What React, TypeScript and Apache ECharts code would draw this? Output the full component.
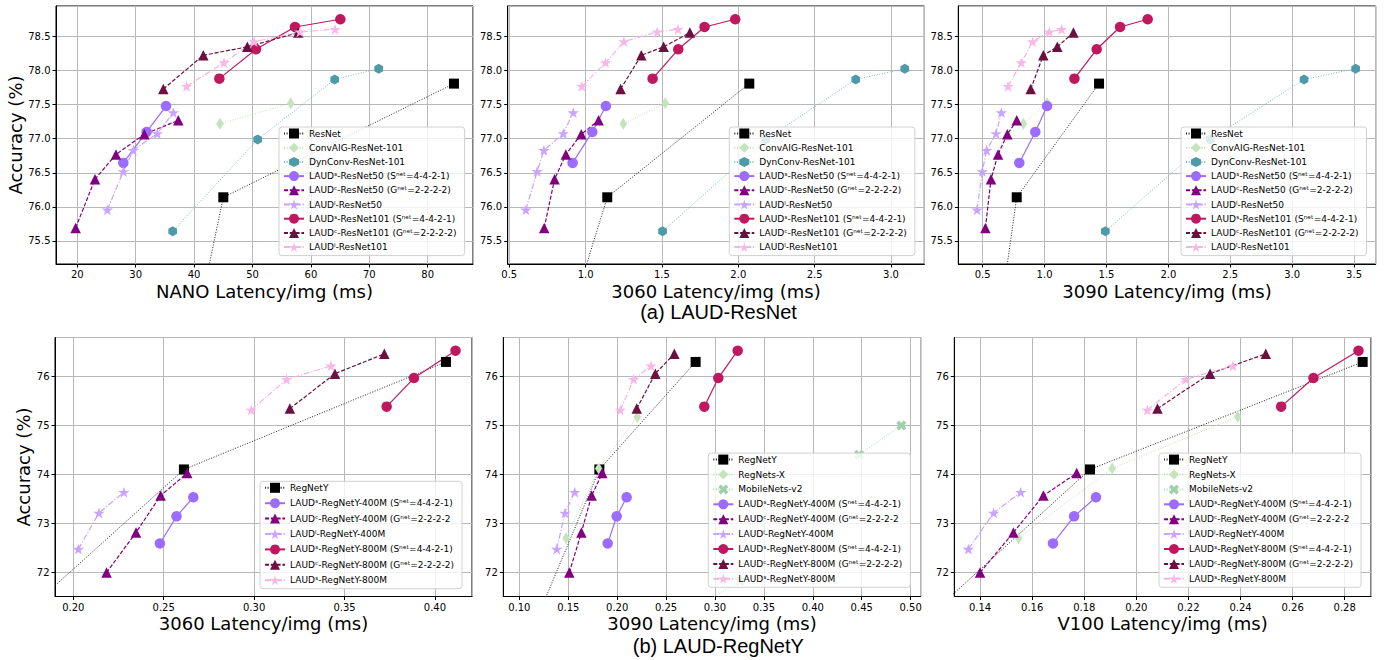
import React, { useEffect, useRef } from 'react';
import * as echarts from 'echarts';

// ---------- accuracies (%) ----------
const accResNet = [73.3, 76.14, 77.81];
const accConvAIG = [77.22, 77.52];
const accDynConv = [75.64, 76.99, 77.87, 78.03];
const accS50 = [76.645, 77.1, 77.48];
const accC50 = [75.69, 76.405, 76.77, 77.066, 77.27];
const accL50 = [75.955, 76.52, 76.83, 77.076, 77.384];
const accS101 = [77.883, 78.314, 78.642, 78.755];
const accC101 = [77.73, 78.226, 78.35, 78.559];
const accL101 = [77.77, 78.118, 78.427, 78.57, 78.608];

const accRegNetY = [70.3, 74.1, 76.3];
const accRegNetsX = [72.69, 74.12, 75.18];
const accMobileV2 = [69.8, 71.81, 74.4, 75.0];
const accS400 = [72.585, 73.14, 73.53];
const accC400 = [71.99, 72.81, 73.565, 74.025];
const accL400 = [72.47, 73.21, 73.635];
const accS800 = [75.385, 75.97, 76.53];
const accC800 = [75.345, 76.06, 76.465];
const accL800 = [75.315, 75.945, 76.22];

// ---------- latencies (ms) : NANO ----------
const nanoResNet = [38.07, 45.0, 84.5];
const nanoConvAIG = [44.43, 56.54];
const nanoDynConv = [36.33, 50.88, 64.07, 71.61];
const nanoS50 = [27.88, 31.87, 35.19];
const nanoC50 = [19.71, 23.03, 26.62, 31.47, 37.3];
const nanoL50 = [25.14, 27.88, 29.59, 33.7, 36.44];
const nanoS101 = [44.32, 50.6, 57.28, 65.04];
const nanoC101 = [34.73, 41.58, 49.11, 57.85];
const nanoL101 = [38.72, 45.12, 50.26, 58.13, 64.13];

// ---------- 3060 (ResNet) ----------
const r3060ResNet = [0.751, 1.142, 2.072];
const r3060ConvAIG = [1.247, 1.522];
const r3060DynConv = [1.504, 2.179, 2.769, 3.09];
const r3060S50 = [0.915, 1.044, 1.133];
const r3060C50 = [0.729, 0.797, 0.871, 0.972, 1.085];
const r3060L50 = [0.609, 0.683, 0.727, 0.854, 0.919];
const r3060S101 = [1.439, 1.607, 1.779, 1.98];
const r3060C101 = [1.229, 1.365, 1.511, 1.683];
const r3060L101 = [0.976, 1.131, 1.251, 1.469, 1.605];

// ---------- 3090 (ResNet) ----------
const r3090ResNet = [0.555, 0.775, 1.44];
const r3090ConvAIG = [0.829, 1.02];
const r3090DynConv = [1.491, 2.337, 3.096, 3.513];
const r3090S50 = [0.796, 0.925, 1.02];
const r3090C50 = [0.522, 0.567, 0.624, 0.699, 0.775];
const r3090L50 = [0.454, 0.497, 0.532, 0.608, 0.651];
const r3090S101 = [1.241, 1.421, 1.61, 1.833];
const r3090C101 = [0.888, 0.99, 1.103, 1.233];
const r3090L101 = [0.705, 0.812, 0.904, 1.039, 1.138];

// ---------- 3060 (RegNetY) ----------
const g3060RegNetY = [0.1472, 0.2612, 0.4061];
const g3060S400 = [0.2479, 0.2571, 0.2664];
const g3060C400 = [0.2184, 0.2347, 0.2483, 0.263];
const g3060L400 = [0.2028, 0.2142, 0.228];
const g3060S800 = [0.3733, 0.3884, 0.4114];
const g3060C800 = [0.3198, 0.3447, 0.372];
const g3060L800 = [0.2984, 0.318, 0.3425];

// ---------- 3090 (RegNetY) ----------
const g3090RegNetY = [0.1024, 0.1818, 0.2802];
const g3090RegNetsX = [0.1477, 0.1811, 0.2206];
const g3090MobileV2 = [0.155, 0.3255, 0.4472, 0.4905];
const g3090S400 = [0.1903, 0.1995, 0.2097];
const g3090C400 = [0.1511, 0.1634, 0.1739, 0.1848];
const g3090L400 = [0.1382, 0.1467, 0.1566];
const g3090S800 = [0.2891, 0.3034, 0.3232];
const g3090C800 = [0.22, 0.239, 0.2584];
const g3090L800 = [0.2032, 0.2169, 0.2346];

// ---------- V100 (RegNetY) ----------
const v100RegNetY = [0.1039, 0.1822, 0.2869];
const v100RegNetsX = [0.1548, 0.1907, 0.2389];
const v100MobileV2: number[] = [];
const v100S400 = [0.168, 0.1761, 0.1845];
const v100C400 = [0.14, 0.1528, 0.1643, 0.1771];
const v100L400 = [0.1355, 0.1452, 0.1556];
const v100S800 = [0.2556, 0.268, 0.2853];
const v100C800 = [0.2081, 0.2283, 0.2497];
const v100L800 = [0.2042, 0.219, 0.2371];

// ---------- names ----------
const topNames = [
  'ResNet',
  'ConvAIG-ResNet-101',
  'DynConv-ResNet-101',
  'LAUDˢ-ResNet50 (Sⁿᵉᵗ=4-4-2-1)',
  'LAUDᶜ-ResNet50 (Gⁿᵉᵗ=2-2-2-2)',
  'LAUDˡ-ResNet50',
  'LAUDˢ-ResNet101 (Sⁿᵉᵗ=4-4-2-1)',
  'LAUDᶜ-ResNet101 (Gⁿᵉᵗ=2-2-2-2)',
  'LAUDˡ-ResNet101',
];
const botNames = [
  'RegNetY',
  'RegNets-X',
  'MobileNets-v2',
  'LAUDˢ-RegNetY-400M (Sⁿᵉᵗ=4-4-2-1)',
  'LAUDᶜ-RegNetY-400M (Gⁿᵉᵗ=2-2-2-2',
  'LAUDˡ-RegNetY-400M',
  'LAUDˢ-RegNetY-800M (Sⁿᵉᵗ=4-4-2-1)',
  'LAUDᶜ-RegNetY-800M (Gⁿᵉᵗ=2-2-2-2)',
  'LAUDˢ-RegNetY-800M',
];
const xNames = [
  'NANO Latency/img (ms)',
  '3060 Latency/img (ms)',
  '3090 Latency/img (ms)',
  '3060 Latency/img (ms)',
  '3090 Latency/img (ms)',
  'V100 Latency/img (ms)',
];
const captionA = '(a) LAUD-ResNet';
const captionB = '(b) LAUD-RegNetY';

// ---------- styles ----------
const FONT = 'DejaVu Sans';
const STAR = 'path://M0,-100 L22.45,-30.9 L95.1,-30.9 L36.3,11.8 L58.8,80.9 L0,38.2 L-58.8,80.9 L-36.3,11.8 L-95.1,-30.9 L-22.45,-30.9 Z';
const HEX = 'path://M0,-100 L86.6,-50 L86.6,50 L0,100 L-86.6,50 L-86.6,-50 Z';
const XMK = 'path://M2,-4 L4,-2 L2,0 L4,2 L2,4 L0,2 L-2,4 L-4,2 L-2,0 L-4,-2 L-2,-4 L0,-2 Z';
const DOT = [1, 1.6];
const DASH = [4, 1.8];
const DASHDOT = [6, 1.8, 1.2, 1.8];

type Sty = { symbol: string; size: number | number[]; color: string; lineColor: string; dash: any; width: number };
const STY: Record<string, Sty> = {
  base: { symbol: 'rect', size: 10, color: '#000', lineColor: '#222', dash: DOT, width: 1 },
  green: { symbol: 'diamond', size: [7.5, 12], color: '#c3e4bc', lineColor: '#bfe0b8', dash: DOT, width: 1 },
  dyn: { symbol: HEX, size: 10, color: '#4f9aa8', lineColor: '#7db6c1', dash: DOT, width: 1 },
  mob: { symbol: XMK, size: 10, color: '#9fd0a9', lineColor: '#b0dab8', dash: DOT, width: 1 },
  s1: { symbol: 'circle', size: 10.5, color: '#9b6cff', lineColor: '#9b6cff', dash: 'solid', width: 1.2 },
  c1: { symbol: 'triangle', size: 10.5, color: '#800080', lineColor: '#800080', dash: DASH, width: 1.2 },
  l1: { symbol: STAR, size: 11.5, color: '#c8a4ff', lineColor: '#c8a4ff', dash: DASHDOT, width: 1.2 },
  s2: { symbol: 'circle', size: 10.5, color: '#c0185f', lineColor: '#c0185f', dash: 'solid', width: 1.2 },
  c2: { symbol: 'triangle', size: 10.5, color: '#6b1040', lineColor: '#6b1040', dash: DASH, width: 1.2 },
  l2: { symbol: STAR, size: 11.5, color: '#f7b8e7', lineColor: '#f4b4e2', dash: DASHDOT, width: 1.2 },
};

const topKeys = ['base', 'green', 'dyn', 's1', 'c1', 'l1', 's2', 'c2', 'l2'];
const topAcc = [accResNet, accConvAIG, accDynConv, accS50, accC50, accL50, accS101, accC101, accL101];
const nanoLat = [nanoResNet, nanoConvAIG, nanoDynConv, nanoS50, nanoC50, nanoL50, nanoS101, nanoC101, nanoL101];
const r3060Lat = [r3060ResNet, r3060ConvAIG, r3060DynConv, r3060S50, r3060C50, r3060L50, r3060S101, r3060C101, r3060L101];
const r3090Lat = [r3090ResNet, r3090ConvAIG, r3090DynConv, r3090S50, r3090C50, r3090L50, r3090S101, r3090C101, r3090L101];

const botKeys = ['base', 'green', 'mob', 's1', 'c1', 'l1', 's2', 'c2', 'l2'];
const botAcc = [accRegNetY, accRegNetsX, accMobileV2, accS400, accC400, accL400, accS800, accC800, accL800];
const g3060Lat = [g3060RegNetY, null, null, g3060S400, g3060C400, g3060L400, g3060S800, g3060C800, g3060L800];
const g3090Lat = [g3090RegNetY, g3090RegNetsX, g3090MobileV2, g3090S400, g3090C400, g3090L400, g3090S800, g3090C800, g3090L800];
const v100Lat = [v100RegNetY, v100RegNetsX, v100MobileV2, v100S400, v100C400, v100L400, v100S800, v100C800, v100L800];

// ---------- layout ----------
const GRIDS = [
  { left: 56, top: 6, width: 417, height: 258 },
  { left: 507.7, top: 6, width: 416.6, height: 258 },
  { left: 958.3, top: 6, width: 417.4, height: 258 },
  { left: 55, top: 337.5, width: 417, height: 259 },
  { left: 503.3, top: 337.5, width: 417.4, height: 259 },
  { left: 954.3, top: 337.5, width: 416.7, height: 259 },
];
const XR = [[16.35, 87.76], [0.49, 3.218], [0.303, 3.675], [0.1899, 0.4205], [0.0836, 0.5103], [0.1301, 0.2901]];
const XSPLIT = [7, 6, 7, 5, 9, 8];
const XDEC = [0, 1, 1, 2, 2, 2];
const LEG = [
  { left: 279, top: 127, gap: 4.2 },
  { left: 729.3, top: 127, gap: 4.2 },
  { left: 1181, top: 127, gap: 4.2 },
  { left: 260, top: 481.3, gap: 5.4 },
  { left: 708.3, top: 453.1, gap: 4.9 },
  { left: 1159, top: 453.1, gap: 4.9 },
];

const zip = (xs: number[], ys: number[]) => xs.map((x, i) => [x, ys[i]]);

function mkSeries(name: string, key: string, lat: number[], acc: number[], idx: number) {
  const s = STY[key];
  return {
    type: 'line',
    name,
    xAxisIndex: idx,
    yAxisIndex: idx,
    data: zip(lat, acc),
    symbol: s.symbol,
    symbolSize: s.size,
    symbolKeepAspect: true,
    showSymbol: true,
    clip: true,
    itemStyle: { color: s.color, opacity: 1 },
    lineStyle: { color: s.lineColor, width: s.width, type: s.dash },
    emphasis: { disabled: true },
    silent: true,
  };
}

function buildOption() {
  const series: any[] = [];
  const legendData: string[][] = [[], [], [], [], [], []];
  [nanoLat, r3060Lat, r3090Lat].forEach((lats, p) => {
    lats.forEach((lat, k) => {
      series.push(mkSeries(topNames[k], topKeys[k], lat, topAcc[k], p));
      legendData[p].push(topNames[k]);
    });
  });
  [g3060Lat, g3090Lat, v100Lat].forEach((lats, q) => {
    const p = q + 3;
    lats.forEach((lat, k) => {
      if (!lat) return;
      series.push(mkSeries(botNames[k], botKeys[k], lat, botAcc[k], p));
      legendData[p].push(botNames[k]);
    });
  });

  return {
    animation: false,
    backgroundColor: '#fff',
    textStyle: { fontFamily: FONT },
    grid: GRIDS.map((g) => ({ ...g, show: true, borderColor: '#000', borderWidth: 1, backgroundColor: 'transparent', containLabel: false })),
    xAxis: GRIDS.map((_, i) => ({
      type: 'value',
      gridIndex: i,
      min: XR[i][0],
      max: XR[i][1],
      splitNumber: XSPLIT[i],
      name: xNames[i],
      nameLocation: 'middle',
      nameGap: i < 3 ? 18.5 : 17.5,
      nameTextStyle: { fontSize: 18, color: '#000', fontFamily: FONT },
      axisLine: { show: true, onZero: false, lineStyle: { color: '#000', width: 1 } },
      axisTick: { show: true, length: 3.5, lineStyle: { color: '#000', width: 1 } },
      axisLabel: {
        fontSize: 10, color: '#000', fontFamily: FONT, margin: 5.5,
        showMinLabel: false, showMaxLabel: false,
        formatter: (v: number) => v.toFixed(XDEC[i]),
      },
      splitLine: { show: true, lineStyle: { color: '#b8b8b8', width: 1 } },
    })),
    yAxis: GRIDS.map((_, i) => {
      const top = i < 3;
      return {
        type: 'value',
        gridIndex: i,
        min: top ? 75.16 : 71.5,
        max: top ? 78.95 : 76.8,
        splitNumber: top ? 8 : 5,
        name: i === 0 || i === 3 ? 'Accuracy (%)' : '',
        nameLocation: 'middle',
        nameGap: i === 0 ? 31 : 22.5,
        nameTextStyle: { fontSize: 18, color: '#000', fontFamily: FONT },
        axisLine: { show: true, onZero: false, lineStyle: { color: '#000', width: 1 } },
        axisTick: { show: true, length: 3.5, lineStyle: { color: '#000', width: 1 } },
        axisLabel: {
          fontSize: 10, color: '#000', fontFamily: FONT, margin: 5.5,
          showMinLabel: false, showMaxLabel: false,
          formatter: (v: number) => v.toFixed(top ? 1 : 0),
        },
        splitLine: { show: true, lineStyle: { color: '#b8b8b8', width: 1 } },
      };
    }),
    legend: LEG.map((l, i) => ({
      data: legendData[i],
      orient: 'vertical',
      left: l.left,
      top: l.top,
      itemWidth: 20,
      itemHeight: 12.5,
      itemGap: l.gap,
      padding: [1.5, 8, 3.5, 4],
      selectedMode: false,
      backgroundColor: 'rgba(255,255,255,0.8)',
      borderColor: '#d0d0d0',
      borderWidth: 1,
      borderRadius: 3,
      textStyle: { fontSize: 9, color: '#000', fontFamily: FONT },
    })),
    graphic: [
      {
        type: 'text', x: 718.5, y: 312,
        style: {
          text: captionA, fontSize: 20, fontFamily: 'Liberation Sans', fill: '#000',
          textAlign: 'center', textVerticalAlign: 'middle', align: 'center', verticalAlign: 'middle',
        },
      },
      {
        type: 'text', x: 718.3, y: 646,
        style: {
          text: captionB, fontSize: 20, fontFamily: 'Liberation Sans', fill: '#000',
          textAlign: 'center', textVerticalAlign: 'middle', align: 'center', verticalAlign: 'middle',
        },
      },
    ],
    series,
  };
}

export default function App() {
  const ref = useRef<HTMLDivElement>(null);
  useEffect(() => {
    if (!ref.current) return;
    const chart = echarts.init(ref.current, undefined, { renderer: 'svg' });
    chart.setOption(buildOption() as any);
    return () => chart.dispose();
  }, []);
  return (
    <div
      ref={ref}
      style={{ position: 'fixed', left: 0, top: 0, width: 1388, height: 660, background: '#fff' }}
    />
  );
}
